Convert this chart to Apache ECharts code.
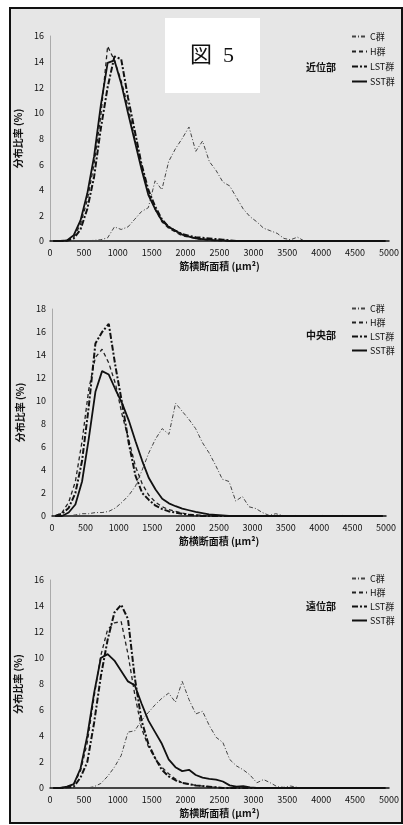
<!DOCTYPE html>
<html>
<head>
<meta charset="utf-8">
<script src="https://cdn.jsdelivr.net/npm/echarts@6/dist/echarts.min.js"></script>
<style>
  html, body { margin: 0; padding: 0; background: #fff; }
  #frame { position: absolute; left: 9px; top: 7px; width: 390px; height: 813px;
           border: 2px solid #111; background: #e6e6e6; }
  #chart { position: absolute; left: 0; top: 0; width: 403px; height: 825px; }
</style>
</head>
<body>
<div id="frame"></div>
<div id="chart"></div>
<script>
// bin centres (um^2)
var bins = [50,150,250,350,450,550,650,750,850,950,
  1050,1150,1250,1350,1450,1550,1650,1750,1850,1950,
  2050,2150,2250,2350,2450,2550,2650,2750,2850,2950,
  3050,3150,3250,3350,3450,3550,3650,3750,3850,3950,
  4050,4150,4250,4350,4450,4550,4650,4750,4850,4950];

var groups = ['C群', 'H群', 'LST群', 'SST群'];
var regions = ['近位部', '中央部', '遠位部'];
var yMax = [16, 18, 16];

// 近位部
var prox_C = [0,0,0,0,0,0.02,0.05,0.1,0.25,1.1, 0.9,1.1,1.7,2.3,2.6,4.7,4.0,6.2,7.2,8.0,
  8.9,7.0,7.8,6.2,5.5,4.6,4.3,3.4,2.5,1.9, 1.5,1.0,0.8,0.6,0.2,0.1,0.3,0,0,0, 0,0,0,0,0,0,0,0,0,0];
var prox_H = [0,0,0.05,0.3,1.3,3.2,6.0,9.8,15.2,14.1, 12.5,10.5,8.0,5.8,3.8,2.5,1.5,1.0,0.7,0.4,
  0.3,0.2,0.1,0.05,0,0,0,0,0,0, 0,0,0,0,0,0,0,0,0,0, 0,0,0,0,0,0,0,0,0,0];
var prox_LST = [0,0,0.02,0.2,0.9,2.5,5.0,8.8,12.0,14.4, 14.2,11.2,8.6,6.0,4.0,2.7,1.7,1.1,0.8,0.55,
  0.4,0.3,0.25,0.2,0.15,0.1,0.05,0,0,0, 0,0,0,0,0,0,0,0,0,0, 0,0,0,0,0,0,0,0,0,0];
var prox_SST = [0,0,0.05,0.45,1.6,3.7,6.6,10.6,13.9,14.1, 12.3,10.0,7.8,5.6,3.6,2.5,1.6,1.1,0.8,0.5,
  0.35,0.2,0.15,0.1,0.05,0.05,0,0,0,0, 0,0,0,0,0,0,0,0,0,0, 0,0,0,0,0,0,0,0,0,0];

// 中央部
var mid_C = [0,0,0,0.1,0.2,0.2,0.3,0.3,0.4,0.7, 1.2,1.8,2.6,4.0,5.5,6.7,7.6,7.1,9.8,9.1,
  8.4,7.6,6.4,5.5,4.4,3.2,3.0,1.3,1.7,0.8, 0.65,0.3,0.05,0.2,0.05,0,0.05,0,0.05,0, 0.05,0,0,0.05,0,0,0,0,0,0];
var mid_H = [0,0.3,1.2,3.0,6.5,11.0,13.8,14.5,13.3,11.5, 8.8,6.6,4.3,2.8,1.8,1.2,0.8,0.55,0.4,0.25,
  0.15,0.1,0.05,0,0,0,0,0,0,0, 0,0,0,0,0,0,0,0,0,0, 0,0,0,0,0,0,0,0,0,0];
var mid_LST = [0,0.2,0.7,2.0,4.8,9.5,15.0,16.0,16.7,13.0, 9.8,6.3,3.5,2.0,1.4,0.9,0.6,0.4,0.3,0.2,
  0.1,0.05,0,0,0,0,0,0,0,0, 0,0,0,0,0,0,0,0,0,0, 0,0,0,0,0,0,0,0,0,0];
var mid_SST = [0,0,0.3,1.0,3.0,6.7,10.8,12.6,12.3,11.0, 9.8,8.3,6.5,4.8,3.3,2.3,1.5,1.1,0.85,0.65,
  0.5,0.35,0.25,0.15,0.1,0.05,0,0,0,0, 0,0,0,0,0,0,0,0,0,0, 0,0,0,0,0,0,0,0,0,0];

// 遠位部
var dist_C = [0,0,0,0,0,0,0.1,0.35,0.9,1.6, 2.5,4.3,4.4,5.2,5.8,6.4,6.9,7.3,6.6,8.2,
  6.8,5.7,5.9,4.8,3.9,3.5,2.2,1.7,1.4,1.0, 0.4,0.65,0.4,0.1,0.05,0.15,0.05,0,0,0, 0,0,0,0,0,0,0,0,0,0];
var dist_H = [0,0,0.05,0.3,1.3,3.5,7.0,10.2,12.2,12.7, 12.8,10.3,7.2,4.6,3.2,2.3,1.6,1.1,0.7,0.4,
  0.3,0.2,0.15,0.1,0.05,0,0,0,0,0, 0,0,0,0,0,0,0,0,0,0, 0,0,0,0,0,0,0,0,0,0];
var dist_LST = [0,0,0.05,0.1,0.8,2.0,5.0,8.6,11.4,13.5, 14.1,13.0,8.5,5.2,3.4,2.3,1.4,0.9,0.6,0.4,
  0.3,0.2,0.15,0.1,0.05,0,0,0,0,0, 0,0,0,0,0,0,0,0,0,0, 0,0,0,0,0,0,0,0,0,0];
var dist_SST = [0,0,0.1,0.3,1.5,4.0,7.3,10.0,10.3,9.8, 9.0,8.2,7.9,6.5,5.2,4.3,3.4,2.2,1.6,1.3,
  1.4,1.0,0.8,0.7,0.65,0.5,0.2,0.1,0.15,0.05, 0,0,0,0,0,0,0,0,0,0, 0,0,0,0,0,0,0,0,0,0];

var panels = [
  [prox_C, prox_H, prox_LST, prox_SST],
  [mid_C, mid_H, mid_LST, mid_SST],
  [dist_C, dist_H, dist_LST, dist_SST]
];

// 線の種類（C, H, LST, SST）
var lineStyles = [
  { width: 1, color: '#444', type: [4, 2, 1, 2] },
  { width: 1.3, color: '#222', type: [4, 3] },
  { width: 2, color: '#111', type: [6, 2, 2, 2] },
  { width: 1.8, color: '#111', type: 'solid' }
];

var grids = [
  { left: 50, top: 36, width: 339, height: 205 },
  { left: 52, top: 309, width: 334, height: 207 },
  { left: 50, top: 580, width: 339, height: 208 }
];
var legendTops = [32, 304, 574];
var legendGaps = [6, 5, 5];
var regionY = [68, 336, 607];

var font = '"Noto Sans CJK JP", "DejaVu Sans", sans-serif';

var xAxes = [], yAxes = [], series = [], legends = [], graphics = [];

function plain(v) { return String(v); }

for (var p = 0; p < 3; p++) {
  xAxes.push({
    gridIndex: p, type: 'value', min: 0, max: 5000, interval: 500,
    name: '筋横断面積 (μm²)', nameLocation: 'middle', nameGap: 20,
    nameTextStyle: { fontSize: 10, fontWeight: 'bold', color: '#111', fontFamily: font },
    axisLine: { lineStyle: { color: '#111', width: 1.5 } },
    axisTick: { show: false },
    axisLabel: { fontSize: 9, color: '#111', margin: 7, fontFamily: font, formatter: plain },
    splitLine: { show: false }
  });
  yAxes.push({
    gridIndex: p, type: 'value', min: 0, max: yMax[p], interval: 2,
    name: '分布比率 (%)', nameLocation: 'middle', nameGap: 27,
    nameTextStyle: { fontSize: 10, fontWeight: 'bold', color: '#111', fontFamily: font },
    axisLine: { show: true, lineStyle: { color: '#aaa', width: 1 } },
    axisTick: { show: false },
    axisLabel: { fontSize: 9, color: '#111', margin: 6, fontFamily: font, formatter: plain },
    splitLine: { show: false }
  });
  for (var g = 0; g < 4; g++) {
    var vals = panels[p][g];
    series.push({
      name: groups[g], type: 'line', xAxisIndex: p, yAxisIndex: p,
      symbol: 'none', smooth: false,
      lineStyle: lineStyles[g], itemStyle: { color: lineStyles[g].color },
      z: 2 + g,
      data: bins.map(function (b, i) { return [b, vals[i]]; })
    });
  }
  legends.push({
    data: groups, orient: 'vertical', left: 351, top: legendTops[p],
    itemWidth: 15, itemHeight: 9, itemGap: legendGaps[p], padding: 0,
    selectedMode: false,
    itemStyle: { opacity: 0 },
    textStyle: { fontSize: 9, color: '#111', fontFamily: font, padding: [0, 0, 0, -2] }
  });
  graphics.push({
    type: 'text', left: 306, top: regionY[p] - 6,
    style: { text: regions[p], fill: '#111', font: 'bold 10px ' + font }
  });
}

// 図 5 のラベル
graphics.push({
  type: 'rect', shape: { x: 165, y: 18, width: 95, height: 75 },
  style: { fill: '#fff' }, z: 10
});
graphics.push({
  type: 'text', x: 212, y: 56, z: 11,
  style: { text: '図  5', fill: '#111', align: 'center', verticalAlign: 'middle',
           font: '22px "Liberation Serif", "Noto Sans CJK JP", serif' }
});

var chart = echarts.init(document.getElementById('chart'));
chart.setOption({
  animation: false,
  backgroundColor: 'transparent',
  grid: grids,
  xAxis: xAxes,
  yAxis: yAxes,
  legend: legends,
  series: series,
  graphic: graphics
});
</script>
</body>
</html>
